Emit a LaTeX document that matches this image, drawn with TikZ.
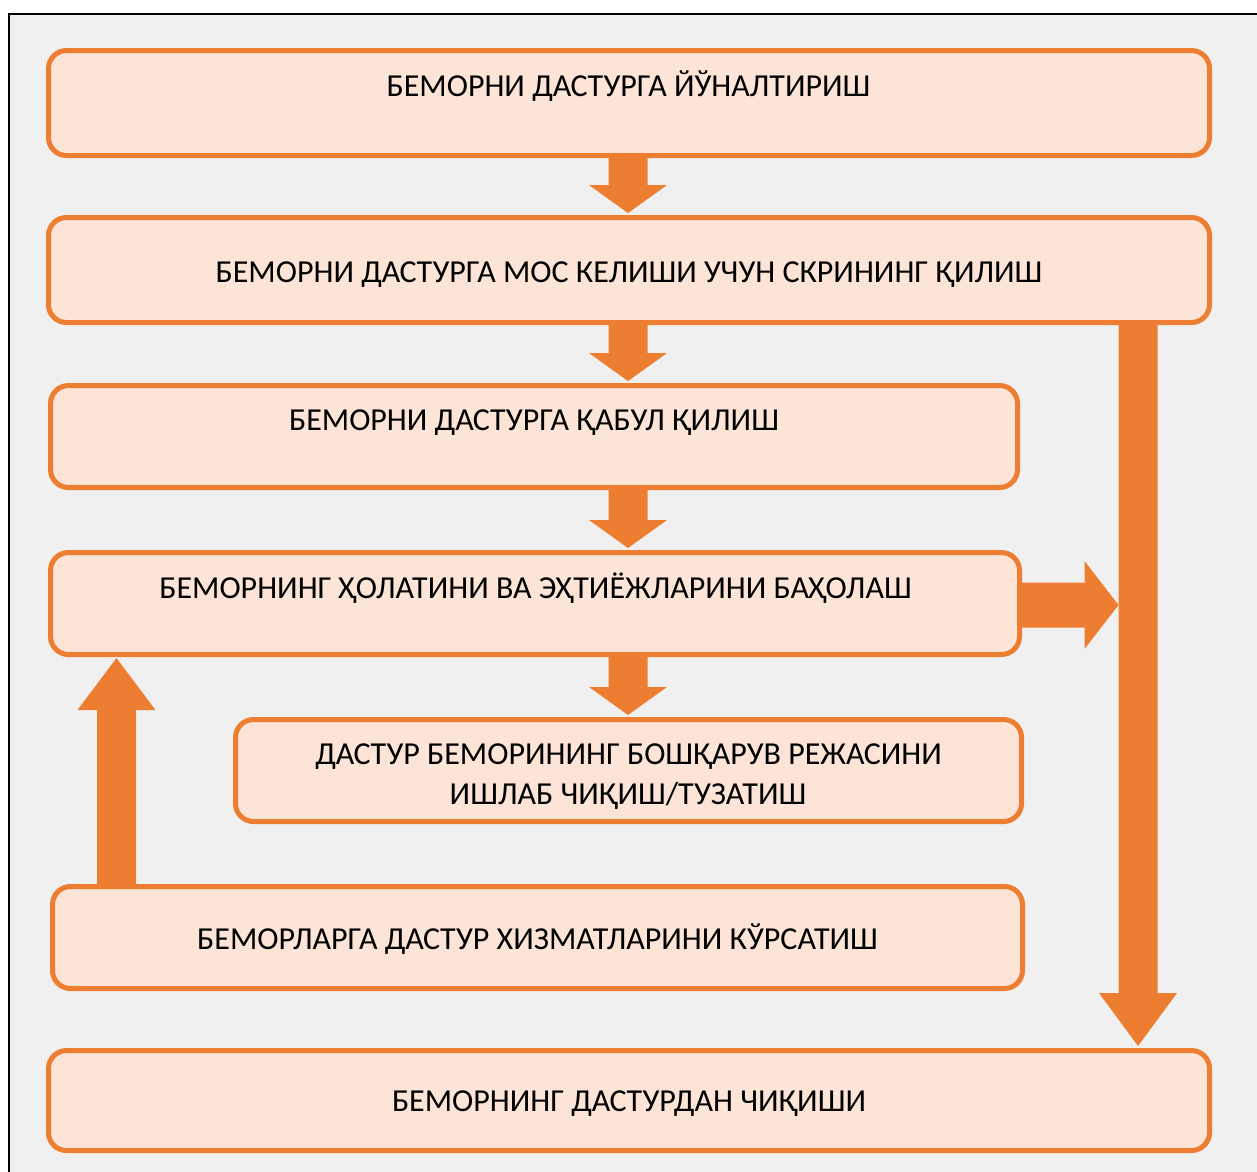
\documentclass[tikz,border=0pt]{standalone}
\usepackage{fontspec}
\setmainfont{Carlito}
\usetikzlibrary{calc}
\definecolor{orng}{HTML}{ED7D31}
\definecolor{peach}{HTML}{FCE4D6}
\definecolor{bgc}{HTML}{F0F0F0}
\newcommand\downblock[2]{%
  \fill[blockarr] ($(ax|-#1)+(-19.5,0)$) -- ($(ax|-#1)+(19.5,0)$) -- ($(ax|-#2)+(19.5,-30)$) -- ($(ax|-#2)+(39,-30)$) -- ($(ax|-#2)+(0,-2)$) -- ($(ax|-#2)+(-39,-30)$) -- ($(ax|-#2)+(-19.5,-30)$) -- cycle;}
\begin{document}
\begin{tikzpicture}[x=1pt,y=-1pt,
  box/.style={draw=orng, fill=peach, line width=5pt, rounded corners=18pt, inner sep=0pt},
  lbl/.style={font=\fontsize{32}{40}\selectfont, anchor=base, inner sep=0pt, text=black},
  blockarr/.style={fill=orng}]
\useasboundingbox (0,0) rectangle (1257,1171);
\fill[white] (0,0) rectangle (1257,1171);
\shade[top color=bgc, middle color=white, bottom color=bgc] (9,14) rectangle (1275,1190);
\draw[black, line width=2.5pt] (9,1190) -- (9,14) -- (1275,14);
% boxes
\node[box, minimum width=1161pt, minimum height=105pt] (b1) at (629,103) {};
\node[box, minimum width=1161pt, minimum height=105pt] (b2) at (629,270) {};
\node[box, minimum width=967pt, minimum height=102pt] (b3) at (534,436.5) {};
\node[box, minimum width=969pt, minimum height=102pt] (b4) at (535,603.5) {};
\node[box, minimum width=786pt, minimum height=102pt] (b5) at (628.5,770.5) {};
\node[box, minimum width=970pt, minimum height=102pt] (b6) at (537.5,937.5) {};
\node[box, minimum width=1161pt, minimum height=100pt] (b7) at (629,1100.5) {};
% helper columns
\coordinate (ax) at (628,0);
\coordinate (rx) at (1138,0);
\coordinate (ux) at (116.5,0);
% down arrows
\downblock{b1.south}{b2.north}
\downblock{b2.south}{b3.north}
\downblock{b3.south}{b4.north}
\downblock{b4.south}{b5.north}
% long arrow to exit
\fill[blockarr] ($(rx|-b2.south)+(-19.5,0)$) -- ($(rx|-b2.south)+(19.5,0)$) -- ($(rx|-b7.north)+(19.5,-55)$) -- ($(rx|-b7.north)+(39,-55)$) -- ($(rx|-b7.north)+(0,-2)$) -- ($(rx|-b7.north)+(-39,-55)$) -- ($(rx|-b7.north)+(-19.5,-55)$) -- cycle;
% right arrow from assessment
\coordinate (rt) at ($(rx|-b4.east)+(-19.5,1.5)$);
\fill[blockarr] ($(b4.east)+(0,-21)$) -- ($(rt)+(-34,-22.5)$) -- ($(rt)+(-34,-44)$) -- (rt) -- ($(rt)+(-34,44)$) -- ($(rt)+(-34,22.5)$) -- ($(b4.east)+(0,24)$) -- cycle;
% up arrow (feedback)
\fill[blockarr] ($(ux|-b6.north)+(-19.5,0)$) -- ($(ux|-b4.south)+(-19.5,53)$) -- ($(ux|-b4.south)+(-39,53)$) -- ($(ux|-b4.south)+(0,1)$) -- ($(ux|-b4.south)+(39,53)$) -- ($(ux|-b4.south)+(19.5,53)$) -- ($(ux|-b6.north)+(19.5,0)$) -- cycle;
% texts
\node[lbl] (t1) at (628.5,96.5) {БЕМОРНИ ДАСТУРГА ЙЎНАЛТИРИШ};
\node[lbl] (t2) at (629,282) {БЕМОРНИ ДАСТУРГА МОС КЕЛИШИ УЧУН СКРИНИНГ ҚИЛИШ};
\node[lbl] (t3) at (534,430.5) {БЕМОРНИ ДАСТУРГА ҚАБУЛ ҚИЛИШ};
\node[lbl] (t4) at (535.5,598) {БЕМОРНИНГ ҲОЛАТИНИ ВА ЭҲТИЁЖЛАРИНИ БАҲОЛАШ};
\node[lbl] (t5a) at (628.5,764) {ДАСТУР БЕМОРИНИНГ БОШҚАРУВ РЕЖАСИНИ};
\node[lbl] (t5b) at (628,804) {ИШЛАБ ЧИҚИШ/ТУЗАТИШ};
\node[lbl] (t6) at (537.5,949.5) {БЕМОРЛАРГА ДАСТУР ХИЗМАТЛАРИНИ КЎРСАТИШ};
\node[lbl] (t7) at (629,1111) {БЕМОРНИНГ ДАСТУРДАН ЧИҚИШИ};
\end{tikzpicture}
\end{document}
